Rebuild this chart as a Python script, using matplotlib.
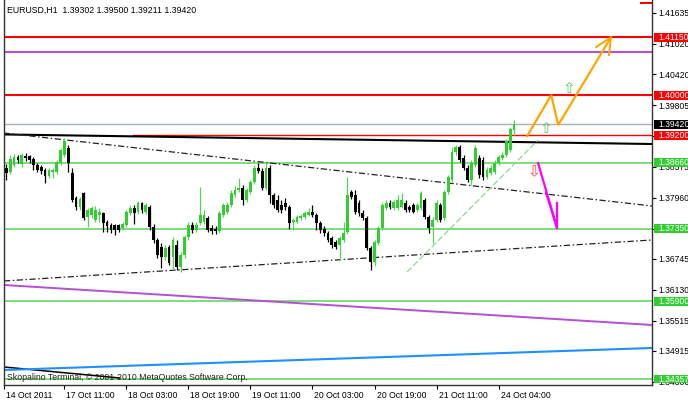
import matplotlib
matplotlib.use('Agg')
import matplotlib.pyplot as plt
import matplotlib.transforms as mtransforms
from matplotlib.patches import Rectangle
import numpy as np

plt.rcParams['font.family'] = ['Liberation Sans', 'DejaVu Sans']

##----- EURUSD H1 candles
opens = [1.3872, 1.3856, 1.3848, 1.3862, 1.3878, 1.3864, 1.3880, 1.3880, 1.3874, 1.3862,
         1.3858, 1.3852, 1.3840, 1.3848, 1.3848, 1.3866, 1.3882, 1.3896, 1.3846, 1.3796,
         1.3778, 1.3806, 1.3758, 1.3762, 1.3752, 1.3762, 1.3766, 1.3748, 1.3742, 1.3742,
         1.3742, 1.3736, 1.3742, 1.3766, 1.3776, 1.3768, 1.3786, 1.3768, 1.3778, 1.3738,
         1.3712, 1.3698, 1.3678, 1.3698, 1.3678, 1.3702, 1.3658, 1.3682, 1.3718, 1.3742,
         1.3732, 1.3746, 1.3748, 1.3756, 1.3736, 1.3734, 1.3730, 1.3762, 1.3768, 1.3782,
         1.3802, 1.3812, 1.3816, 1.3792, 1.3808, 1.3828, 1.3856, 1.3850, 1.3816, 1.3856,
         1.3802, 1.3792, 1.3782, 1.3786, 1.3778, 1.3748, 1.3748, 1.3756, 1.3758, 1.3762,
         1.3768, 1.3762, 1.3746, 1.3734, 1.3726, 1.3716, 1.3708, 1.3702, 1.3712, 1.3728,
         1.3808, 1.3802, 1.3786, 1.3766, 1.3756, 1.3696, 1.3668, 1.3706, 1.3736, 1.3776,
         1.3786, 1.3776, 1.3776, 1.3778, 1.3786, 1.3778, 1.3782, 1.3772, 1.3776,
         1.3792, 1.3758, 1.3738, 1.3752, 1.3782, 1.3756, 1.3808, 1.3832, 1.3888, 1.3898,
         1.3876, 1.3856, 1.3832, 1.3862, 1.3876, 1.3872, 1.3838, 1.3846, 1.3848, 1.3866,
         1.3876, 1.3882, 1.3892, 1.39302]
highs = [1.3878, 1.3864, 1.3882, 1.3884, 1.3882, 1.3886, 1.3886, 1.3882, 1.3878, 1.3866,
         1.3862, 1.3856, 1.3856, 1.3856, 1.3872, 1.3896, 1.3914, 1.3902, 1.3856, 1.3800,
         1.3798, 1.3808, 1.3776, 1.3780, 1.3780, 1.3776, 1.3768, 1.3752, 1.3746, 1.3744,
         1.3744, 1.3748, 1.3772, 1.3782, 1.3782, 1.3790, 1.3788, 1.3786, 1.3782, 1.3744,
         1.3716, 1.3706, 1.3702, 1.3702, 1.3718, 1.3712, 1.3688, 1.3722, 1.3748, 1.3748,
         1.3748, 1.3818, 1.3772, 1.3760, 1.3742, 1.3740, 1.3770, 1.3786, 1.3788, 1.3812,
         1.3820, 1.3836, 1.3822, 1.3816, 1.3832, 1.3862, 1.3866, 1.3856, 1.3868, 1.3862,
         1.3806, 1.3802, 1.3792, 1.3796, 1.3782, 1.3756, 1.3762, 1.3764, 1.3770, 1.3776,
         1.3782, 1.3766, 1.3750, 1.3740, 1.3730, 1.3720, 1.3712, 1.3720, 1.3748, 1.3838,
         1.3812, 1.3812, 1.3792, 1.3772, 1.3760, 1.3700, 1.3712, 1.3740, 1.3786, 1.3792,
         1.3792, 1.3792, 1.3802, 1.3806, 1.3792, 1.3782, 1.3786, 1.3786, 1.3810,
         1.3796, 1.3762, 1.3758, 1.3792, 1.3786, 1.3812, 1.3842, 1.3898, 1.3902, 1.3902,
         1.3882, 1.3862, 1.3872, 1.3902, 1.3882, 1.3878, 1.3858, 1.3862, 1.3872, 1.3882,
         1.3888, 1.3912, 1.3936, 1.39500]
lows = [1.3840, 1.3832, 1.3844, 1.3858, 1.3866, 1.3858, 1.3870, 1.3866, 1.3852, 1.3848,
        1.3844, 1.3826, 1.3836, 1.3836, 1.3844, 1.3862, 1.3878, 1.3848, 1.3788, 1.3772,
        1.3772, 1.3752, 1.3738, 1.3756, 1.3748, 1.3748, 1.3728, 1.3728, 1.3726, 1.3722,
        1.3728, 1.3732, 1.3738, 1.3762, 1.3744, 1.3764, 1.3766, 1.3764, 1.3732, 1.3706,
        1.3676, 1.3656, 1.3672, 1.3662, 1.3652, 1.3652, 1.3648, 1.3676, 1.3712, 1.3726,
        1.3728, 1.3742, 1.3744, 1.3728, 1.3724, 1.3724, 1.3726, 1.3758, 1.3764, 1.3778,
        1.3798, 1.3808, 1.3782, 1.3788, 1.3804, 1.3824, 1.3846, 1.3812, 1.3812, 1.3786,
        1.3776, 1.3768, 1.3766, 1.3772, 1.3734, 1.3732, 1.3746, 1.3752, 1.3754, 1.3760,
        1.3758, 1.3732, 1.3726, 1.3720, 1.3708, 1.3696, 1.3694, 1.3672, 1.3708, 1.3724,
        1.3794, 1.3764, 1.3760, 1.3752, 1.3692, 1.3652, 1.3660, 1.3702, 1.3732, 1.3772,
        1.3774, 1.3772, 1.3772, 1.3776, 1.3768, 1.3768, 1.3766, 1.3768, 1.3772,
        1.3754, 1.3726, 1.3706, 1.3748, 1.3748, 1.3752, 1.3804, 1.3828, 1.3882, 1.3868,
        1.3852, 1.3828, 1.3822, 1.3858, 1.3836, 1.3832, 1.3834, 1.3842, 1.3844, 1.3862,
        1.3872, 1.3878, 1.3888, 1.39211]
closes = [1.3852, 1.3846, 1.3874, 1.3878, 1.3872, 1.3882, 1.3876, 1.3872, 1.3862, 1.3852,
          1.3850, 1.3840, 1.3852, 1.3852, 1.3868, 1.3892, 1.3908, 1.3866, 1.3792, 1.3778,
          1.3794, 1.3756, 1.3772, 1.3776, 1.3772, 1.3768, 1.3746, 1.3740, 1.3732, 1.3732,
          1.3732, 1.3744, 1.3768, 1.3776, 1.3766, 1.3786, 1.3772, 1.3782, 1.3738, 1.3712,
          1.3682, 1.3678, 1.3696, 1.3666, 1.3712, 1.3658, 1.3682, 1.3718, 1.3742, 1.3732,
          1.3742, 1.3762, 1.3762, 1.3732, 1.3730, 1.3730, 1.3766, 1.3782, 1.3782, 1.3806,
          1.3812, 1.3816, 1.3792, 1.3812, 1.3828, 1.3856, 1.3850, 1.3816, 1.3856, 1.3802,
          1.3782, 1.3772, 1.3772, 1.3778, 1.3746, 1.3752, 1.3758, 1.3760, 1.3766, 1.3768,
          1.3762, 1.3746, 1.3732, 1.3726, 1.3712, 1.3702, 1.3698, 1.3716, 1.3726, 1.3802,
          1.3798, 1.3768, 1.3766, 1.3756, 1.3696, 1.3668, 1.3708, 1.3736, 1.3782, 1.3786,
          1.3778, 1.3788, 1.3792, 1.3792, 1.3772, 1.3772, 1.3768, 1.3782, 1.3806,
          1.3758, 1.3736, 1.3752, 1.3786, 1.3752, 1.3808, 1.3838, 1.3888, 1.3898, 1.3872,
          1.3856, 1.3832, 1.3866, 1.3896, 1.3842, 1.3838, 1.3852, 1.3856, 1.3866, 1.3878,
          1.3882, 1.3908, 1.3932, 1.39420]

time_ticks = [0.4, 16, 32, 48, 64, 80, 96, 112, 128]
time_labels = ['14 Oct 2011', '17 Oct 11:00', '18 Oct 03:00', '18 Oct 19:00',
               '19 Oct 11:00', '20 Oct 03:00', '20 Oct 19:00', '21 Oct 11:00',
               '24 Oct 04:00']

price_ticks = [1.41635, 1.41020, 1.40420, 1.39805, 1.39190, 1.38575, 1.37960,
               1.37345, 1.36745, 1.36130, 1.35515, 1.34915, 1.34300]

# horizontal levels
red_levels = [1.41150, 1.40000]
green_levels = [1.38660, 1.37350, 1.35900, 1.34357]
purple_level = 1.40869
bid_level = 1.39420
level_1392 = 1.39200

# trend lines: (x0, x1), (p0, p1) in bar index / price
upper_dashdot = ([0.4, 167.6], [1.39249, 1.37798])
lower_dashdot = ([0.4, 167.6], [1.36307, 1.37122])
black_line = ([0.4, 167.6], [1.39220, 1.39030])
black_low = ([0.4, 30.3], [1.34597, 1.34378])
purple_low = ([0.4, 167.6], [1.36227, 1.35432])
blue_line = ([0.4, 167.6], [1.34537, 1.34975])
green_trend = ([104.4, 138.2], [1.36485, 1.39110])
orange_path = ([135.4, 141.6, 143.4, 157.0], [1.39189, 1.40004, 1.39408, 1.41150])
orange_head = ([153.2, 157.0, 156.5], [1.40959, 1.41150, 1.40800])
magenta_path = ([138.2, 143.1], [1.38652, 1.37360])
magenta_head = ([140.3, 143.1, 143.1], [1.38056, 1.37360, 1.37857])


##----------------------- PLOTTING
W, H = 688, 401
fig = plt.figure(figsize=(W / 100, H / 100), dpi=100)
ax = fig.add_axes([4 / W, 16 / H, 648 / W, 385 / H])
ax.set_xlim(0.4, 167.6)
ax.set_ylim(1.34239, 1.41893)

xs = np.arange(len(closes))
o = np.array(opens); c = np.array(closes)
bull = c >= o
body_col = np.where(bull, '#33cc33', '#000000')
wick_col = np.where(bull, '#55d455', '#000000')

# horizontal levels (under the candles)
for p in red_levels:
    ax.axhline(p, color='#ff0000', lw=1.5, zorder=1)
ax.axhline(purple_level, color='#b450d2', lw=1.5, zorder=1)
for p in green_levels:
    ax.axhline(p, color='#66d966', lw=1.2, zorder=1)
ax.axhline(bid_level, color='#a8b0bc', lw=1.0, zorder=1)
ax.plot([33.7, 167.6], [level_1392, level_1392], color='#ff0000', lw=1.0, zorder=1)
ax.plot([164.8, 167.6], [1.41833, 1.41833], color='#ff0000', lw=1.5, zorder=1)

ax.plot(*black_line, color='black', lw=1.5, zorder=1)
ax.plot(*black_low, color='black', lw=1.1, zorder=1)
ax.plot(*purple_low, color='#b450d2', lw=1.4, zorder=1)
ax.plot(*blue_line, color='#1e90ff', lw=1.5, zorder=1)
ax.plot(*upper_dashdot, color='#222222', lw=0.9, dashes=(5, 2, 1.2, 2), zorder=1)
ax.plot(*lower_dashdot, color='#222222', lw=0.9, dashes=(5, 2, 1.2, 2), zorder=1)
ax.plot(*green_trend, color='#88dd88', lw=0.9, dashes=(5, 2), zorder=1)

# candles
ax.vlines(xs, lows, highs, colors=wick_col, lw=0.9, zorder=3)
heights = np.maximum(np.abs(c - o), 0.00003)
ax.bar(xs, heights, bottom=np.minimum(o, c), width=0.72, color=body_col,
       linewidth=0, zorder=4)

# projections
ax.plot(*orange_path, color='#ffa500', lw=1.6, zorder=5, solid_joinstyle='miter')
ax.plot(*orange_head, color='#ffa500', lw=1.4, zorder=5)
ax.plot(*magenta_path, color='#ff00ff', lw=1.6, zorder=5)
ax.plot(*magenta_head, color='#ff00ff', lw=1.6, zorder=5)
ax.text(146.2, 1.40143, '\u21e7', color='#55cc55', fontsize=11, ha='center',
        va='center', family='DejaVu Sans', zorder=6)
ax.text(140.3, 1.39348, '\u21e7', color='#55cc55', fontsize=11, ha='center',
        va='center', family='DejaVu Sans', zorder=6)
ax.text(137.2, 1.38473, '\u21e9', color='#ff4a3a', fontsize=11, ha='center',
        va='center', family='DejaVu Sans', zorder=6)

# axes look
for s in ['left', 'bottom', 'right']:
    ax.spines[s].set_color('#333333')
    ax.spines[s].set_linewidth(1.0)
ax.spines['top'].set_visible(False)
ax.yaxis.tick_right()
ax.set_yticks(price_ticks)
ax.set_yticklabels(['%.5f' % p for p in price_ticks])
ax.set_xticks(time_ticks)
ax.set_xticklabels(time_labels)
ax.tick_params(axis='both', direction='out', length=3, width=0.8,
               labelsize=6.2, pad=1.5, colors='#000000')
offset = mtransforms.ScaledTranslation(2 / 100, 0, fig.dpi_scale_trans)
for lab in ax.get_xticklabels():
    lab.set_ha('left')
    lab.set_transform(lab.get_transform() + offset)

# coloured price labels on the scale
blend = mtransforms.blended_transform_factory(ax.transAxes, ax.transData)
def price_tag(p, fc):
    ax.add_patch(Rectangle((1 + 1.5 / 648, p - 0.00088), 40 / 648, 0.00176,
                           transform=blend, facecolor=fc, edgecolor='none',
                           clip_on=False, zorder=8))
    ax.text(1 + 6 / 648, p, '%.5f' % p, transform=blend, color='white',
            fontsize=6.2, va='center', ha='left', clip_on=False, zorder=9)

for p in red_levels + [level_1392]:
    price_tag(p, '#ff0000')
for p in green_levels:
    price_tag(p, '#33cc33')
price_tag(bid_level, '#000000')

fig.text(7 / W, 1 - 10 / H, 'EURUSD,H1  1.39302 1.39500 1.39211 1.39420',
         fontsize=6.3, va='center', ha='left', color='#000000')
fig.text(7 / W, 1 - 377 / H,
         'Skopalino Terminal, \u00a9 2001-2010 MetaQuotes Software Corp.',
         fontsize=6.3, va='center', ha='left', color='#222222')

fig.savefig('out.png', dpi=100)
